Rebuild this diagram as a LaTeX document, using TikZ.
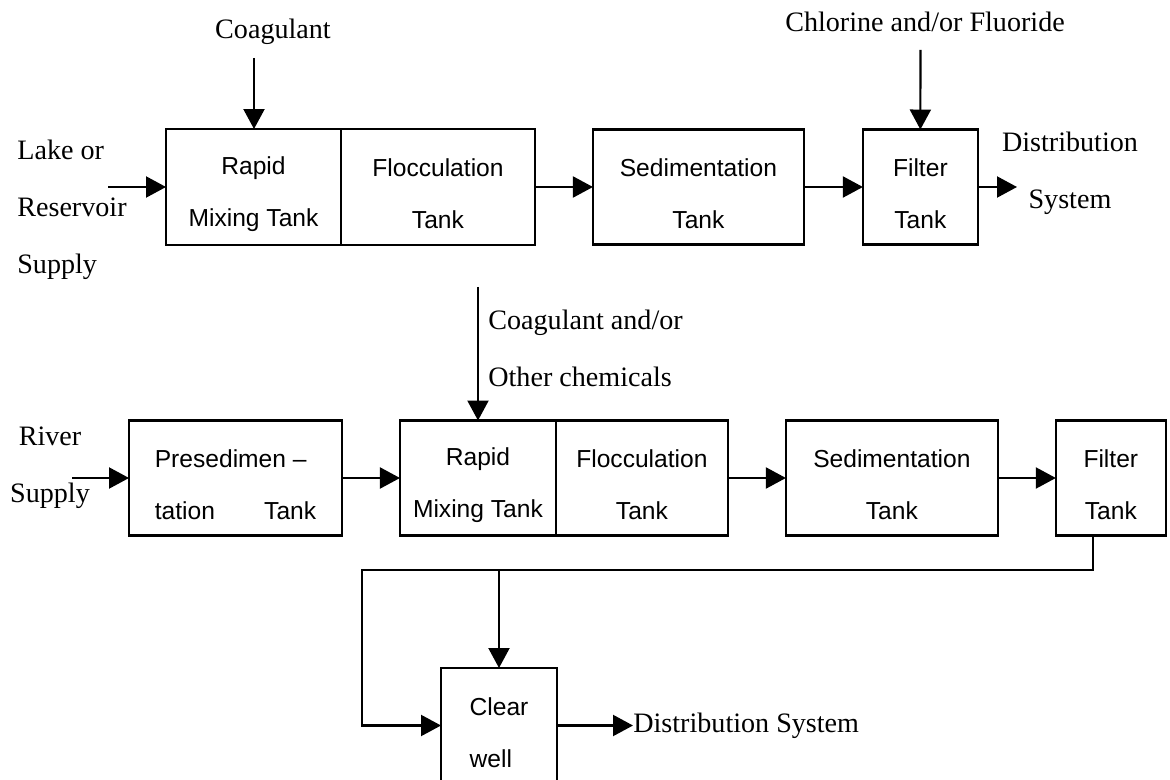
\documentclass[tikz,border=0pt]{standalone}
\usepackage{fontspec}
\setmainfont{Liberation Serif}
\newfontfamily\tankfont{Liberation Sans}
\usetikzlibrary{positioning, arrows.meta}
\newcommand{\tankstrut}{\rule{0pt}{18pt}}
\tikzstyle{tank} = [rectangle, draw=black, line width=1.2pt, inner sep=0pt, outer sep=0pt, minimum height=2.3cm, align=center, font=\tankfont\fontsize{14}{29.6}\selectfont]
\tikzstyle{note} = [inner sep=0pt, font=\fontsize{16}{32.4}\selectfont]
\tikzstyle{arrow} = [line width=1.2pt, -{Triangle[length=0.4cm, width=0.42cm]}]
\tikzstyle{pipe} = [line width=1.2pt]

\begin{document}
\begin{tikzpicture}[x=0.02cm, y=-0.02cm]
\useasboundingbox (0,0) rectangle (1170,780);

% Lake or reservoir supply
\node (lake) [note, anchor=north west, align=left] at (17,140) {Lake or\\Reservoir\\Supply};
\node (rapid1) [tank, minimum width=3.5cm, minimum height=2.32cm] at (253.5,187) {\tankstrut Rapid\\Mixing Tank};
\node (flocc1) [tank, minimum width=3.88cm, minimum height=2.32cm, right=0pt of rapid1] {\tankstrut Flocculation\\Tank};
\node (sed1) [tank, minimum width=4.22cm, right=1.16cm of flocc1] {\tankstrut Sedimentation\\Tank};
\node (filt1) [tank, minimum width=2.3cm, right=1.18cm of sed1] {\tankstrut Filter\\Tank};
\node (coag1) [note, anchor=base] at (273,39) {Coagulant};
\node (chlor) [note, anchor=base] at (925,32) {Chlorine and/or Fluoride};
\node (dist1) [note, anchor=north, align=center] at (1070,132) {Distribution\\System};
\coordinate (lakein) at (108,187);
\coordinate (coag1in) at (254,58);
\coordinate (chlorin) at (920.5,50);
\coordinate (dist1out) at (1017,187);

\draw [arrow] (lakein) -- (rapid1.west);
\draw [arrow] (coag1in) -- (coag1in |- rapid1.north);
\draw [arrow] (flocc1.east) -- (sed1.west);
\draw [arrow] (sed1.east) -- (filt1.west);
\draw [arrow] (chlorin) -- (filt1.north);
\draw [arrow] (filt1.east) -- (dist1out);

% River supply
\node (river) [note, anchor=north, align=center] at (50,427) {River\\Supply};
\node (presed) [tank, minimum width=4.26cm, align=left] at (235.5,478) {\tankstrut Presedimen –\\tation\qquad Tank};
\node (rapid2) [tank, minimum width=3.12cm, right=1.16cm of presed] {\tankstrut Rapid\\Mixing Tank};
\node (flocc2) [tank, minimum width=3.44cm, right=0pt of rapid2] {\tankstrut Flocculation\\Tank};
\node (sed2) [tank, minimum width=4.24cm, right=1.16cm of flocc2] {\tankstrut Sedimentation\\Tank};
\node (filt2) [tank, minimum width=2.2cm, right=1.16cm of sed2] {\tankstrut Filter\\Tank};
\node (coag2) [note, anchor=north west, align=left] at (488,310) {Coagulant and/or\\Other chemicals};
\node (clear) [tank, minimum width=2.32cm, align=left] at (499,725.5) {\tankstrut Clear\\well};
\node (dist2) [note, anchor=west] at (633,725.5) {Distribution System};
\coordinate (riverin) at (72,478);
\coordinate (coag2in) at (478,287);
\coordinate (split) at (499,570);
\coordinate (bypass) at (362,570);

\draw [arrow] (riverin) -- (presed.west);
\draw [arrow] (coag2in) -- (coag2in |- rapid2.north);
\draw [arrow] (presed.east) -- (rapid2.west);
\draw [arrow] (flocc2.east) -- (sed2.west);
\draw [arrow] (sed2.east) -- (filt2.west);
\draw [pipe] ([xshift=-0.36cm]filt2.south) |- (split);
\draw [arrow] (split) -- (clear.north);
\draw [arrow] (split) -- (bypass) |- (clear.west);
\draw [arrow] (clear.east) -- (dist2.west);

\end{tikzpicture}
\end{document}
